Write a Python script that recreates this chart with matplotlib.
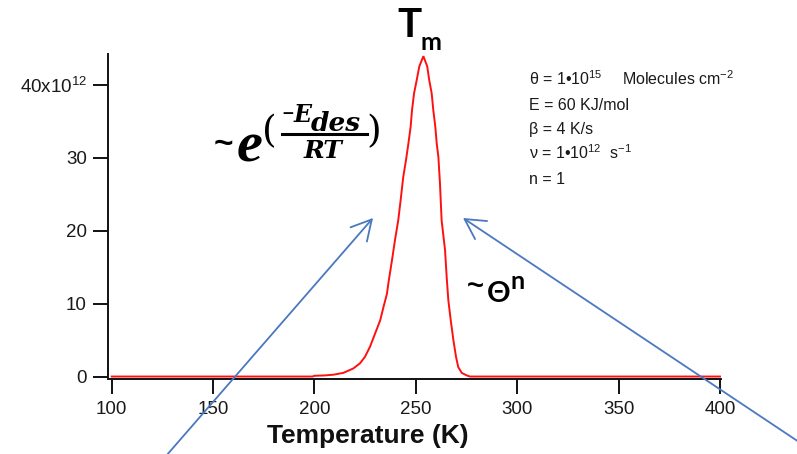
import matplotlib
matplotlib.use("Agg")
import matplotlib.pyplot as plt
from matplotlib.lines import Line2D

plt.rcParams['mathtext.fontset'] = 'custom'
plt.rcParams['mathtext.rm'] = 'Liberation Sans'
plt.rcParams['mathtext.it'] = 'Liberation Sans:italic'
plt.rcParams['mathtext.bf'] = 'Liberation Sans:bold'
plt.rcParams['font.family'] = ['Liberation Sans', 'DejaVu Sans']

# ---- data (desorption rate in units of 1e12) ----
temperature = [100, 150, 199, 200, 205, 209.3, 214.2, 219.1, 222.4, 224.9, 227.4,
               229.9, 232.4, 234.0, 235.7, 236.5, 238.2, 239.7, 241.3, 242.5,
               243.8, 245.1, 246.3, 247.4, 248.1, 249.1, 250.4, 251.7, 253.7,
               255.6, 256.6, 257.8, 258.6, 259.6, 260.3, 261.1, 261.9, 262.7,
               264.4, 265.2, 266.0, 267.2, 268.5, 269.8, 270.9, 272.6, 275.1,
               276.7, 300, 350, 400]
rate = [0, 0, 0, 0.1, 0.15, 0.25, 0.5, 1.1, 1.8, 2.7, 4.1,
        5.9, 7.7, 9.5, 11.3, 12.9, 15.9, 18.7, 21.4, 24.2,
        27.4, 29.6, 31.9, 34.2, 36.5, 38.8, 40.6, 42.5, 43.9,
        42.5, 40.6, 38.8, 36.5, 34.2, 31.9, 30.1, 26.4, 21.4,
        17.3, 13.6, 10.5, 7.7, 5.0, 2.7, 1.3, 0.5, 0.15,
        0, 0, 0, 0]

x_ticks = [100, 150, 200, 250, 300, 350, 400]
y_ticks = [0, 10, 20, 30, 40]
y_tick_labels = ['0', '10', '20', '30', '40x10$^{12}$']

params = ['θ = 1•10$^{15}$', 'E = 60 KJ/mol', 'β = 4 K/s',
          'ν = 1•10$^{12}$  s$^{-1}$', 'n = 1']
units_theta = 'Molecules cm$^{-2}$'

W, H = 797, 454
fig = plt.figure(figsize=(W / 100, H / 100), dpi=100)

def fx(px):
    return px / W

def fy(py):
    return 1 - py / H

ax = fig.add_axes([fx(108.3), fy(378.5), fx(720.6) - fx(108.3), fy(54) - fy(378.5)])
ax.plot(temperature, rate, color='#ff1010', lw=1.4, solid_joinstyle='miter')
ax.set_xlim(98.3, 400.3)
ax.set_ylim(-0.27, 44.2)

for s in ['top', 'right']:
    ax.spines[s].set_visible(False)
for s in ['left', 'bottom']:
    ax.spines[s].set_linewidth(1.4)
    ax.spines[s].set_color('#111111')
ax.spines['left'].set_bounds(0, 44.2)

ax.set_xticks(x_ticks)
ax.set_yticks(y_ticks)
ax.set_yticklabels(y_tick_labels)
ax.tick_params(axis='both', length=11, width=1.4, color='#111111',
               labelsize=13.5, labelcolor='#1a1a1a')
ax.tick_params(axis='x', pad=5)
ax.tick_params(axis='y', pad=4.5)

ax.set_xlabel('Temperature (K)', fontsize=19, fontweight='bold', color='#111111', labelpad=0)
ax.xaxis.set_label_coords((368 - 108.3) / (720.6 - 108.3), (378.5 - 443) / (378.5 - 54),
                          transform=ax.transAxes)
ax.xaxis.label.set_va('baseline')

# parameter block
baselines = [85, 110, 134, 159, 184]
for t, b in zip(params, baselines):
    fig.text(fx(529), fy(b), t, fontsize=11.5, color='#1a1a1a', va='baseline', ha='left')
fig.text(fx(622), fy(85), units_theta, fontsize=11.5, color='#1a1a1a',
         va='baseline', ha='left')

# T_m
fig.text(fx(397), fy(37), 'T', fontsize=29, fontweight='bold', family='Lato',
         va='baseline', ha='left', color='black')
fig.text(fx(420), fy(50), 'm', fontsize=18, fontweight='bold', family='Lato',
         va='baseline', ha='left', color='black')

# ~ e^(-E_des/RT)
serif_bi = dict(family='DejaVu Serif', fontweight='bold', style='italic', color='black')
fig.text(fx(214), fy(145), '~', fontsize=24, fontweight='bold', family='Liberation Sans',
         va='center', ha='left', color='black')
fig.text(fx(237), fy(162), 'e', fontsize=42, fontweight='bold', style='italic',
         family='Liberation Serif', va='baseline', ha='left', color='black')
fig.text(fx(262), fy(132), '(', fontsize=27, family='DejaVu Serif', va='center',
         ha='left', color='black')
fig.text(fx(366), fy(132), ')', fontsize=27, family='DejaVu Serif', va='center',
         ha='left', color='black')
fig.text(fx(281), fy(113), '−', fontsize=11, family='DejaVu Sans', fontweight='bold',
         va='center', ha='left', color='black')
fig.text(fx(294), fy(122), 'E', fontsize=17, va='baseline', ha='left', **serif_bi)
fig.text(fx(311), fy(131), 'des', fontsize=19, va='baseline', ha='left', **serif_bi)
fig.add_artist(Line2D([fx(282), fx(367)], [fy(134), fy(134)], lw=2.2, color='black',
                      transform=fig.transFigure))
fig.text(fx(304), fy(158), 'RT', fontsize=18, va='baseline', ha='left', **serif_bi)

# ~Θ^n
fig.text(fx(467), fy(286), '~', fontsize=21, fontweight='bold', family='Liberation Sans',
         va='center', ha='left', color='black')
fig.text(fx(487), fy(302), 'Θ', fontsize=21, fontweight='bold', family='Lato',
         va='baseline', ha='left', color='black')
fig.text(fx(511), fy(289), 'n', fontsize=18, fontweight='bold', family='Lato',
         va='baseline', ha='left', color='black')

# arrows
arrow_kw = dict(arrowstyle='->,head_length=1.1,head_width=0.6', color='#4a78c0',
                lw=1.3, mutation_scale=13, shrinkA=0, shrinkB=0)
ax.annotate('', xy=(fx(373), fy(218)), xycoords='figure fraction',
            xytext=(fx(166), fy(456)), textcoords='figure fraction',
            arrowprops=arrow_kw, annotation_clip=False)
ax.annotate('', xy=(fx(463), fy(218)), xycoords='figure fraction',
            xytext=(fx(802), fy(444)), textcoords='figure fraction',
            arrowprops=arrow_kw, annotation_clip=False)

fig.savefig('out.png', dpi=100)
